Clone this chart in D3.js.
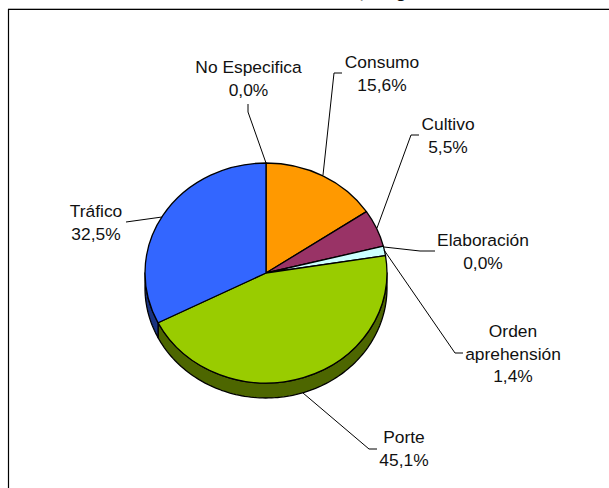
<!DOCTYPE html>
<html>
<head>
<meta charset="utf-8">
<script src="https://cdn.jsdelivr.net/npm/d3@7"></script>
<style>
html,body{margin:0;padding:0;background:#fff;overflow:hidden}
svg{display:block}
text{font-family:"Liberation Sans",Arial,sans-serif;font-size:17.4px;fill:#111;text-anchor:middle}
</style>
</head>
<body>
<svg id="chart" width="609" height="488"></svg>
<script>
const categories = ["Consumo","Cultivo","Elaboración","Orden aprehensión","Porte","Tráfico","No Especifica"];
const values = [15.6,5.5,0.0,1.4,45.1,32.5,0.0];
const topColors = ["#FF9900","#993366","#FFFFFF","#CCFFFF","#99CC00","#3366FF","#FFFFFF"];
const sideColors = ["#804D00","#4D1A33","#808080","#668080","#4D6600","#1A3380","#808080"];
const labelLines = [["Consumo"],["Cultivo"],["Elaboración"],["Orden","aprehensión"],["Porte"],["Tráfico"],["No Especifica"]];

// layout
const W=609,H=488,cx=266,cy=273,rx=121,ry=110,depth=15,lineH=22.7;
const labelAnchors = [[382,68],[448,130],[483,246],[513,337],[404,443],[96,217],[248.5,73]];
const leaders = [
  [[342,73],[334,73],[323,175]],
  [[419,135],[411,135],[377,228]],
  [[435,251],[420,251],[384,247]],
  [[463,353],[455,353],[384,250]],
  [[377,449],[369,449],[303,393]],
  [[126,222],[162,217]],
  [[248,104],[248,112],[266,163]]
];

const svg=d3.select("#chart");
svg.append("rect").attr("width",W).attr("height",H).attr("fill","#fff");

// frame, running off the right and bottom of the picture
svg.append("line").attr("x1",8).attr("x2",W).attr("y1",8.5).attr("y2",8.5).attr("stroke","#b4b4b4");
svg.append("path").attr("d",d3.line()([[8.5,H],[8.5,9.5],[W,9.5]])).attr("fill","none").attr("stroke","#000").attr("stroke-width",1.2);

// title, cut off by the top of the picture: only the descenders show
svg.append("text").attr("x",362).attr("y",-2).style("font-weight","bold").text(",");
svg.append("text").attr("x",401).attr("y",-2).style("font-weight","bold").text("g");

const slices=d3.pie().sort(null).value(d=>d)(values);
const arc=d3.arc().innerRadius(0).outerRadius(rx);
const yScale=ry/rx;
const px=a=>cx+rx*Math.sin(a), py=a=>cy-ry*Math.cos(a);

// side wall: only the part of the rim facing the viewer
const sideG=svg.append("g");
slices.forEach((s,i)=>{
  const a0=Math.max(s.startAngle,Math.PI/2), a1=Math.min(s.endAngle,Math.PI*1.5);
  if(a1<=a0) return;
  const n=Math.max(2,Math.ceil((a1-a0)*40));
  const ang=d3.range(n+1).map(k=>a0+(a1-a0)*k/n);
  const pts=ang.map(a=>[px(a),py(a)]).concat(ang.slice().reverse().map(a=>[px(a),py(a)+depth]));
  sideG.append("path").attr("d",d3.line()(pts)+"Z").attr("fill",sideColors[i])
    .attr("stroke","#000").attr("stroke-width",1.3).attr("stroke-linejoin","round");
});

// top face
const topG=svg.append("g").attr("transform",`translate(${cx},${cy}) scale(1,${yScale})`);
topG.selectAll("path").data(slices).join("path")
  .attr("d",arc).attr("fill",(d,i)=>topColors[i])
  .attr("stroke","#000").attr("stroke-width",1.3)
  .attr("vector-effect","non-scaling-stroke").attr("stroke-linejoin","round")
  .style("display",d=>d.data>0?null:"none");

// leader lines
svg.append("g").selectAll("path").data(leaders).join("path")
  .attr("d",d=>d3.line()(d)).attr("fill","none").attr("stroke","#000").attr("stroke-width",1);

// labels
const fmt=v=>d3.format(".1f")(v).replace(".",",")+"%";
categories.forEach((c,i)=>{
  const g=svg.append("text").attr("transform",`translate(${labelAnchors[i][0]},${labelAnchors[i][1]})`);
  labelLines[i].concat(fmt(values[i])).forEach((t,k)=>{
    g.append("tspan").attr("x",0).attr("y",k*lineH).text(t);
  });
});
</script>
</body>
</html>
